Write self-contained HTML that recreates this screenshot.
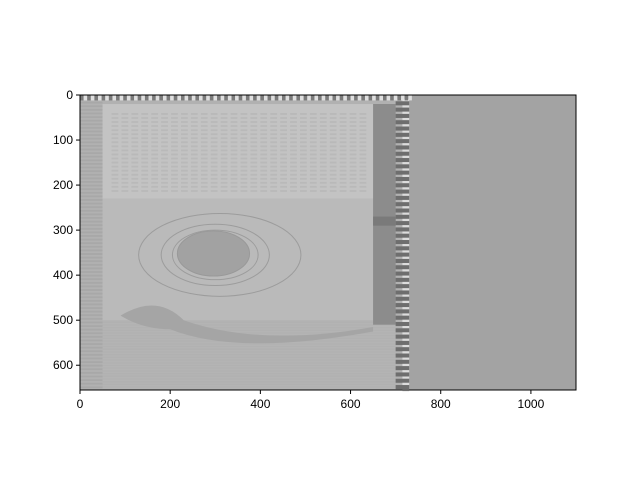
<!DOCTYPE html>
<html><head><meta charset="utf-8"><style>
body{margin:0;background:#fff;}
svg{display:block;font-family:"Liberation Sans","DejaVu Sans",sans-serif;}
</style></head><body>
<svg id="c" width="640" height="480">
<rect width="640" height="480" fill="#fff"/>
<g id="img"></g>
<g id="axes"></g>
</svg>
<script>
const xTicks=[0,200,400,600,800,1000];
const yTicks=[0,100,200,300,400,500,600];
const xMax=1100, yMax=655;
const L=80,T=95,W=496,H=295;
const X=v=>L+v*W/xMax, Y=v=>T+v*H/yMax;
const NS="http://www.w3.org/2000/svg";
const img=document.getElementById('img'), ax=document.getElementById('axes');
function R(g,x0,y0,x1,y1,fill,name){const r=document.createElementNS(NS,'rect');
r.setAttribute('x',X(x0));r.setAttribute('y',Y(y0));r.setAttribute('width',X(x1)-X(x0));r.setAttribute('height',Y(y1)-Y(y0));r.setAttribute('fill',fill);


g.appendChild(r);return r;}
R(img,0,0,1100,655,'#a3a3a3','background-region');
R(img,0,0,730,655,'#b1b1b1','image-area');
for(let y=15;y<655;y+=8){R(img,0,y,50,y+4,(y/8)%2?'#a8a8a8':'#b9b9b9','left-stripe');}
for(let y=500;y<655;y+=6){R(img,50,y,700,y+3,'#b4b4b4','lower-stripe');}
R(img,50,20,650,230,'#c3c3c3','text-page');
for(let y=40;y<220;y+=9){for(let x=70;x<640;x+=22){R(img,x,y,x+15,y+4,'#b9b9b9','text-line');}}
R(img,50,230,650,500,'#bababa','table-region');
R(img,650,20,700,510,'#8c8c8c','dark-band');
R(img,650,270,700,290,'#7a7a7a','dark-band-shade');
for(let y=0;y<655;y+=14){R(img,700,y,730,y+9,'#6e6e6e','checker-column');R(img,715,y+9,730,y+14,'#dcdcdc','checker-light');}
for(let x=0;x<730;x+=16){R(img,x,0,x+8,12,'#7a7a7a','top-checker');R(img,x+8,0,x+16,12,'#e0e0e0','top-checker');}
function E(cx,cy,rx,ry,fill,stroke){const e=document.createElementNS(NS,'ellipse');
e.setAttribute('cx',X(cx));e.setAttribute('cy',Y(cy));e.setAttribute('rx',rx*W/xMax);e.setAttribute('ry',ry*H/yMax);
e.setAttribute('fill',fill);e.setAttribute('stroke',stroke);e.setAttribute('stroke-width','1');


img.appendChild(e);}
E(310,355,180,92,'none','#9c9c9c');
E(300,355,120,68,'none','#9c9c9c');
E(300,355,95,55,'none','#9c9c9c');
E(296,352,80,50,'#a2a2a2','#999');
const p=document.createElementNS(NS,'path');
p.setAttribute('d',`M${X(90)} ${Y(490)} Q${X(170)} ${Y(440)} ${X(230)} ${Y(500)} Q${X(400)} ${Y(560)} ${X(650)} ${Y(515)} L${X(650)} ${Y(525)} Q${X(350)} ${Y(580)} ${X(200)} ${Y(520)} Q${X(140)} ${Y(520)} ${X(90)} ${Y(490)} Z`);
p.setAttribute('fill','#a5a5a5');


img.appendChild(p);
const f=document.createElementNS(NS,'rect');
f.setAttribute('x',L);f.setAttribute('y',T);f.setAttribute('width',W);f.setAttribute('height',H);
f.setAttribute('fill','none');f.setAttribute('stroke','#000');f.setAttribute('stroke-width','1');


ax.appendChild(f);
xTicks.forEach(v=>{const l=document.createElementNS(NS,'line');
l.setAttribute('x1',X(v));l.setAttribute('x2',X(v));l.setAttribute('y1',T+H);l.setAttribute('y2',T+H+4);l.setAttribute('stroke','#000');


ax.appendChild(l);
const t=document.createElementNS(NS,'text');t.setAttribute('x',X(v));t.setAttribute('y',T+H+18);t.setAttribute('text-anchor','middle');t.setAttribute('font-size','12');t.textContent=v;


ax.appendChild(t);});
yTicks.forEach(v=>{const l=document.createElementNS(NS,'line');
l.setAttribute('x1',L-4);l.setAttribute('x2',L);l.setAttribute('y1',Y(v));l.setAttribute('y2',Y(v));l.setAttribute('stroke','#000');


ax.appendChild(l);
const t=document.createElementNS(NS,'text');t.setAttribute('x',L-7);t.setAttribute('y',Y(v)+4);t.setAttribute('text-anchor','end');t.setAttribute('font-size','12');t.textContent=v;


ax.appendChild(t);});
</script>
</body></html>
